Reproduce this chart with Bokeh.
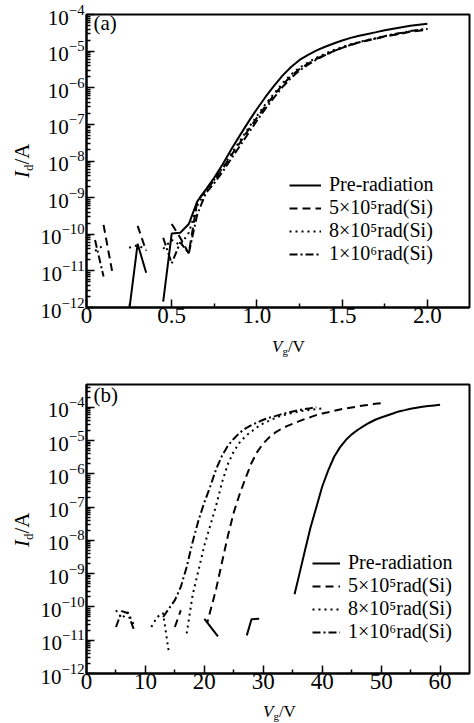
import numpy as np
from bokeh.plotting import figure
from bokeh.models import (Range1d, FixedTicker, Label, Legend, LegendItem,
                          CustomJSTickFormatter, LogTickFormatter, Div)
from bokeh.layouts import column, row
from bokeh.embed import file_html
from bokeh.resources import INLINE

nan = float("nan")
FONT = "Liberation Serif"

# ---------------- data: panel (a), Vg in V, Id in A ----------------
va = [0.00, 0.05, 0.10, 0.15, 0.20, 0.25, 0.30, 0.35, 0.40, 0.45, 0.50, 0.55, 0.60,
      0.65, 0.70, 0.75, 0.80, 0.85, 0.90, 0.95, 1.00, 1.05, 1.10, 1.15, 1.20, 1.25,
      1.30, 1.35, 1.40, 1.45, 1.50, 1.55, 1.60, 1.65, 1.70, 1.75, 1.80, 1.85, 1.90,
      1.95, 2.00]
ia_pre = [nan, nan, nan, nan, nan, 8e-13, 5.5e-11, 8.9e-12, nan, 1.45e-12, 1.05e-10,
          1.1e-10, 1.9e-10, 7.9e-10, 1.66e-9, 3.55e-9, 8.3e-9, 2.1e-8, 5.0e-8, 1.17e-7,
          2.63e-7, 5.6e-7, 1.12e-6, 2.14e-6, 3.7e-6, 5.75e-6, 7.9e-6, 1.05e-5, 1.32e-5,
          1.62e-5, 1.95e-5, 2.3e-5, 2.63e-5, 2.95e-5, 3.3e-5, 3.7e-5, 4.07e-5, 4.47e-5,
          4.9e-5, 5.25e-5, 5.6e-5]
ia_5e5 = [nan, nan, 1.8e-10, 1.0e-11, nan, nan, 1.7e-10, 3.5e-11, nan, nan, 1.9e-10,
          8e-11, 3e-11, 8e-10, 1.58e-9, 3.0e-9, 6.3e-9, 1.45e-8, 3.16e-8, 7.1e-8,
          1.51e-7, 3.16e-7, 6.3e-7, 1.2e-6, 2.1e-6, 3.24e-6, 4.57e-6, 6.2e-6, 7.9e-6,
          1.0e-5, 1.23e-5, 1.48e-5, 1.74e-5, 1.95e-5, 2.19e-5, 2.5e-5, 2.75e-5, 3.0e-5,
          3.4e-5, 3.6e-5, 3.9e-5]
ia_8e5 = [nan, 3.5e-11, 5e-11, nan, nan, 4.3e-11, 5e-11, 3.8e-11, nan, 4e-11, 7e-11,
          5e-11, 1.1e-10, 6e-10, 1.51e-9, 3.1e-9, 6.8e-9, 1.58e-8, 3.55e-8, 7.9e-8,
          1.7e-7, 3.55e-7, 6.9e-7, 1.32e-6, 2.3e-6, 3.55e-6, 4.9e-6, 6.6e-6, 8.5e-6,
          1.07e-5, 1.29e-5, 1.55e-5, 1.78e-5, 2.0e-5, 2.24e-5, 2.57e-5, 2.82e-5, 3.1e-5,
          3.47e-5, 3.7e-5, 4.0e-5]
ia_1e6 = [nan, 7e-11, 7e-12, nan, nan, nan, nan, nan, nan, 8e-11, 1.6e-11, 6e-11, 3e-11,
          3.5e-10, 1.32e-9, 2.5e-9, 5.2e-9, 1.17e-8, 2.57e-8, 5.75e-8, 1.26e-7, 2.7e-7,
          5.4e-7, 1.05e-6, 1.86e-6, 2.95e-6, 4.27e-6, 5.9e-6, 7.75e-6, 1.0e-5, 1.23e-5,
          1.48e-5, 1.74e-5, 2.0e-5, 2.24e-5, 2.57e-5, 2.9e-5, 3.16e-5, 3.55e-5, 3.8e-5,
          4.07e-5]

# ---------------- data: panel (b) ----------------
vb_pre = [20.5, 22.3, nan, 27.2, 28.0, 29.3, nan, 35.3, 36, 37, 38, 39, 40, 41, 42, 43,
          44, 45, 46, 47, 48, 49, 50, 51, 52, 53, 54, 55, 56, 57, 58, 59, 60]
ib_pre = [3.4e-11, 1.3e-11, nan, 1.4e-11, 4.3e-11, 4.4e-11, nan, 2.4e-10, 7.9e-10,
          4.4e-9, 2.4e-8, 1.0e-7, 4.2e-7, 1.26e-6, 3.24e-6, 6.3e-6, 1.05e-5, 1.55e-5,
          2.1e-5, 2.75e-5, 3.47e-5, 4.27e-5, 5.0e-5, 5.75e-5, 6.6e-5, 7.6e-5, 8.3e-5,
          9.1e-5, 9.8e-5, 1.05e-4, 1.1e-4, 1.15e-4, 1.2e-4]
vb_5e5 = [15, 16, nan, 20, 20.5, 21.5, 22, 23, 24, 25, 26, 27, 28, 29, 30, 31, 32, 33,
          34, 35, 36, 37, 38, 39, 40, 41, 42, 43, 44, 45, 46, 47, 48, 49, 50]
ib_5e5 = [2.5e-11, 8e-11, nan, 4.4e-11, 3.4e-11, 1.6e-10, 3.5e-10, 2.24e-9, 1.4e-8,
          7.1e-8, 2.5e-7, 7.6e-7, 2.14e-6, 4.7e-6, 8.3e-6, 1.26e-5, 1.74e-5, 2.24e-5,
          2.75e-5, 3.24e-5, 3.8e-5, 4.47e-5, 5.1e-5, 5.9e-5, 6.6e-5, 7.2e-5, 7.9e-5,
          8.7e-5, 9.3e-5, 1.0e-4, 1.07e-4, 1.15e-4, 1.2e-4, 1.29e-4, 1.35e-4]
vb_8e5 = [5, 6, 7, 8, nan, 11, 12, 13, 14, nan, 17, 18, 19, 20, 21, 22, 23, 24, 25, 26,
          27, 28, 29, 30, 31, 32, 33, 34, 35, 36, 37, 38, 39, 40]
ib_8e5 = [8e-11, 4.5e-11, 7e-11, 3e-11, nan, 2.5e-11, 5e-11, 6.5e-11, 4e-12, nan,
          1.6e-11, 2.24e-10, 1.26e-9, 7.1e-9, 2.8e-8, 1.12e-7, 5.6e-7, 2.0e-6, 4.8e-6,
          8.9e-6, 1.38e-5, 1.9e-5, 2.57e-5, 3.3e-5, 4.0e-5, 4.8e-5, 5.6e-5, 6.3e-5,
          6.9e-5, 7.6e-5, 8.1e-5, 8.5e-5, 8.9e-5, 9.3e-5]
vb_1e6 = [5, 6, 7, 8, nan, 13, 14, 15, 16, 17, 18, 19, 20, 21, 22, 23, 24, 25, 26, 27,
          28, 29, 30, 31, 32, 33, 34, 35, 36, 37, 38, 39]
ib_1e6 = [2.5e-11, 7.5e-11, 6.5e-11, 2.2e-11, nan, 5e-11, 9e-11, 1.6e-10, 4e-10, 1.6e-9,
          8.9e-9, 4e-8, 1.4e-7, 4.2e-7, 1.4e-6, 3.55e-6, 7.1e-6, 1.15e-5, 1.74e-5,
          2.34e-5, 2.95e-5, 3.55e-5, 4.27e-5, 4.9e-5, 5.5e-5, 6.2e-5, 6.9e-5, 7.6e-5,
          8.3e-5, 8.9e-5, 9.5e-5, 1.02e-4]

series_names = ["Pre-radiation", "5×10⁵rad(Si)", "8×10⁵rad(Si)", "1×10⁶rad(Si)"]
series_dash = ["solid", "8 5", "2 4", "8 3 2 3"]

xa_ticks = [0, 0.5, 1, 1.5, 2]
xa_labels = ["0", "0.5", "1.0", "1.5", "2.0"]
xa_minor = [0.25, 0.75, 1.25, 1.75]
xb_ticks = [0, 10, 20, 30, 40, 50, 60]
xb_labels = ["0", "10", "20", "30", "40", "50", "60"]
xb_minor = [5, 15, 25, 35, 45, 55]
y_exps = [-12, -11, -10, -9, -8, -7, -6, -5, -4]

W = 474
YLAB_W = 37
CSS_FONT = "font-family:'Liberation Serif',serif;line-height:1;white-space:nowrap;color:#000;"


def panel(curves, x_end, y_top, height, b_top, b_bottom, xt, xlab, xminor,
          yminor, tag, tag_dy, leg_xy, leg_size, glyph_w):
    p = figure(width=W - YLAB_W, height=height, x_range=Range1d(0, x_end),
               y_range=Range1d(1e-12, y_top), y_axis_type="log",
               output_backend="svg", toolbar_location=None,
               min_border_left=78 - YLAB_W, min_border_right=5,
               min_border_top=b_top, min_border_bottom=b_bottom,
               background_fill_color="white", border_fill_color="white")
    p.grid.visible = False
    p.outline_line_color = "black"
    p.outline_line_width = 2
    p.outline_line_alpha = 1

    rs = []
    for (xs, ys), dash in zip(curves, series_dash):
        rs.append(p.line(np.array(xs, dtype=float), np.array(ys, dtype=float),
                         line_color="black", line_width=2, line_dash=dash))

    for ax in (p.xaxis[0], p.yaxis[0]):
        ax.axis_line_width = 2
        ax.axis_line_color = "black"
        ax.major_tick_in = 8
        ax.major_tick_out = 0
        ax.minor_tick_in = 4
        ax.minor_tick_out = 0
        ax.major_tick_line_width = 1.5
        ax.minor_tick_line_width = 1.5
        ax.major_tick_line_color = "black"
        ax.minor_tick_line_color = "black"
        ax.major_label_text_font = FONT
        ax.major_label_text_color = "black"

    p.xaxis.ticker = FixedTicker(ticks=xt, minor_ticks=xminor)
    p.xaxis.formatter = CustomJSTickFormatter(
        args=dict(tv=xt, tl=xlab),
        code="const i = tv.indexOf(tick); return i >= 0 ? tl[i] : '';")
    p.xaxis.major_label_text_font_size = "23px"
    p.xaxis.major_label_standoff = 0

    p.yaxis.ticker = FixedTicker(ticks=[10.0 ** e for e in y_exps], minor_ticks=yminor)
    p.yaxis.formatter = LogTickFormatter()
    p.yaxis.major_label_text_font_size = "21px"
    p.yaxis.major_label_standoff = 2

    # panel tag
    p.add_layout(Label(x=0, y=y_top, x_offset=7, y_offset=tag_dy, text=tag,
                       text_font=FONT, text_font_size="21px", text_color="black"))

    leg = Legend(items=[LegendItem(label=n, renderers=[r]) for n, r in zip(series_names, rs)],
                 location=leg_xy, orientation="vertical",
                 label_text_font=FONT, label_text_font_size=f"{leg_size}px",
                 label_text_color="black",
                 glyph_width=glyph_w, glyph_height=20, label_height=20,
                 label_standoff=8, spacing=0, padding=0, margin=0,
                 border_line_alpha=0, background_fill_alpha=0)
    p.add_layout(leg)
    return p


def ylabel_div(h, top):
    html = (f'<div style="position:relative;width:{YLAB_W}px;height:{h}px;">'
            f'<div style="position:absolute;left:12.4px;top:{top}px;'
            f'transform:rotate(-90deg);transform-origin:0 0;font-size:21px;{CSS_FONT}">'
            '<i>I</i><span style="font-size:13px;position:relative;top:3.5px;">d</span>/A'
            '</div></div>')
    return Div(text=html, width=YLAB_W, height=h, margin=0)


def xlabel_div(h, left, top):
    html = (f'<div style="position:relative;width:{W}px;height:{h}px;">'
            f'<div style="position:absolute;left:{left}px;top:{top}px;font-size:17px;{CSS_FONT}">'
            '<i>V</i><span style="font-size:11px;position:relative;top:3px;">g</span>/V'
            '</div></div>')
    return Div(text=html, width=W, height=h, margin=0)


minor_a = [k * 10.0 ** e for e in y_exps[:-1] for k in range(2, 10)]
minor_b = minor_a + [k * 1e-4 for k in range(2, 5)]

pa = panel([(va, ia_pre), (va, ia_5e5), (va, ia_8e5), (va, ia_1e6)],
           2.247, 1e-4, 334, 14, 27, xa_ticks, xa_labels, xa_minor, minor_a,
           "(a)", -20.5, (203, 42), 20, 32)
pb = panel([(vb_pre, ib_pre), (vb_5e5, ib_5e5), (vb_8e5, ib_8e5), (vb_1e6, ib_1e6)],
           64.99, 4.9e-4, 340, 24, 27, xb_ticks, xb_labels, xb_minor, minor_b,
           "(b)", -22, (226, 30), 20, 28)

layout = column(
    row(ylabel_div(334, 178), pa, spacing=0),
    xlabel_div(26, 272, 4.3),
    row(ylabel_div(340, 187), pb, spacing=0),
    xlabel_div(23, 263, 3.3),
    spacing=0)
open("out.html", "w").write(file_html(layout, INLINE))
